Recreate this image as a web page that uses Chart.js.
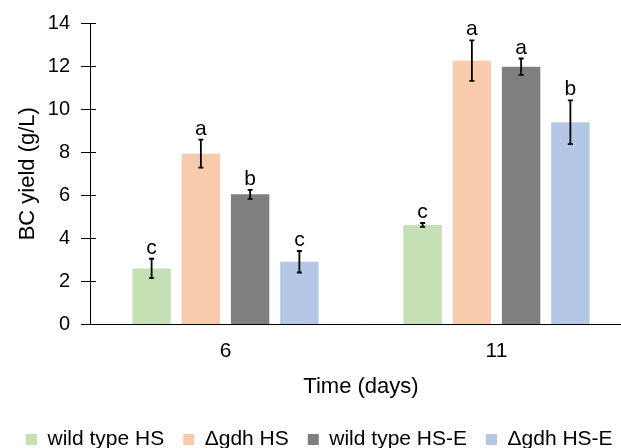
<!DOCTYPE html>
<html>
<head>
<meta charset="utf-8">
<script src="https://cdn.jsdelivr.net/npm/chart.js@4"></script>
<style>
  html, body { margin: 0; padding: 0; overflow: hidden; background: #fff; height: 448px; }
  #wrap { width: 650px; height: 462px; }
</style>
</head>
<body>
<div id="wrap"><canvas id="chart"></canvas></div>
<script>
// data
const days = ['6', '11'];
const seriesNames = ['wild type HS', 'Δgdh HS', 'wild type HS-E', 'Δgdh HS-E'];
const wildTypeHS = [2.6, 4.62];
const gdhHS = [7.93, 12.25];
const wildTypeHSE = [6.04, 11.97];
const gdhHSE = [2.91, 9.39];
const wildTypeHSErr = [0.45, 0.09];
const gdhHSErr = [0.65, 0.94];
const wildTypeHSEErr = [0.21, 0.38];
const gdhHSEErr = [0.5, 1.02];
const wildTypeHSLetters = ['c', 'c'];
const gdhHSLetters = ['a', 'a'];
const wildTypeHSELetters = ['b', 'a'];
const gdhHSELetters = ['c', 'b'];

const colors = ['#C5E0B4', '#F8CBAD', '#7F7F7F', '#B4C7E7'];
const FONT = "'Liberation Sans', Arial, sans-serif";

const values = [wildTypeHS, gdhHS, wildTypeHSE, gdhHSE];
const errors = [wildTypeHSErr, gdhHSErr, wildTypeHSEErr, gdhHSEErr];
const letters = [wildTypeHSLetters, gdhHSLetters, wildTypeHSELetters, gdhHSELetters];

// error bars + letters above them
const errorBarPlugin = {
    id: 'errorBars',
    afterDatasetsDraw(chart) {
        const ctx = chart.ctx;
        const y = chart.scales.y;
        ctx.save();
        chart.data.datasets.forEach((ds, i) => {
            const meta = chart.getDatasetMeta(i);
            meta.data.forEach((bar, j) => {
                const v = ds.data[j];
                const e = errors[i][j];
                const top = y.getPixelForValue(v + e);
                const bottom = y.getPixelForValue(v - e);
                ctx.strokeStyle = '#000';
                ctx.lineWidth = 1.8;
                ctx.beginPath();
                ctx.moveTo(bar.x, top);
                ctx.lineTo(bar.x, bottom);
                ctx.moveTo(bar.x - 2.5, top);
                ctx.lineTo(bar.x + 2.5, top);
                ctx.moveTo(bar.x - 2.5, bottom);
                ctx.lineTo(bar.x + 2.5, bottom);
                ctx.stroke();
                ctx.fillStyle = '#000';
                ctx.font = '21px ' + FONT;
                ctx.textAlign = 'center';
                ctx.textBaseline = 'alphabetic';
                ctx.fillText(letters[i][j], bar.x, top - 5);
            });
        });
        ctx.restore();
    }
};

// y ticks cross the axis line
const innerTicksPlugin = {
    id: 'innerTicks',
    afterDraw(chart) {
        const ctx = chart.ctx;
        const y = chart.scales.y;
        ctx.save();
        ctx.strokeStyle = '#000';
        ctx.lineWidth = 1;
        y.ticks.forEach((t) => {
            const py = Math.round(y.getPixelForValue(t.value)) + 0.5;
            ctx.beginPath();
            ctx.moveTo(y.right, py);
            ctx.lineTo(y.right + 6, py);
            ctx.stroke();
        });
        ctx.restore();
    }
};

const ctx = document.getElementById('chart');
const chart = new Chart(ctx, {
    type: 'bar',
    data: {
        labels: days,
        datasets: values.map((v, i) => ({
            label: seriesNames[i],
            data: v,
            backgroundColor: colors[i],
            categoryPercentage: 0.727,
            barPercentage: 0.78,
        })),
    },
    options: {
        responsive: true,
        maintainAspectRatio: false,
        animation: false,
        layout: { padding: { left: 7, right: 18, top: 20, bottom: 2 } },
        plugins: {
            tooltip: { enabled: false },
            legend: {
                position: 'bottom',
                align: 'start',
                labels: {
                    boxWidth: 11,
                    boxHeight: 11,
                    padding: 19,
                    color: '#000',
                    font: { family: FONT, size: 21 },
                },
            },
        },
        scales: {
            x: {
                grid: { display: false, drawTicks: false },
                border: { color: '#000', width: 1 },
                ticks: { color: '#000', font: { family: FONT, size: 21 }, padding: 14 },
                title: {
                    display: true,
                    text: 'Time (days)',
                    color: '#000',
                    font: { family: FONT, size: 22 },
                    padding: { top: -4, bottom: 10 },
                },
            },
            y: {
                min: 0,
                max: 14,
                afterFit(scale) { scale.width = 83; },
                grid: { drawOnChartArea: false, drawTicks: true, tickLength: 9, color: '#000' },
                border: { color: '#000', width: 1 },
                ticks: { stepSize: 2, color: '#000', font: { family: FONT, size: 20 }, padding: 11 },
                title: {
                    display: true,
                    text: 'BC yield (g/L)',
                    color: '#000',
                    font: { family: FONT, size: 22 },
                    padding: { top: 8, bottom: 0 },
                },
            },
        },
    },
    plugins: [errorBarPlugin, innerTicksPlugin],
});
</script>
</body>
</html>
